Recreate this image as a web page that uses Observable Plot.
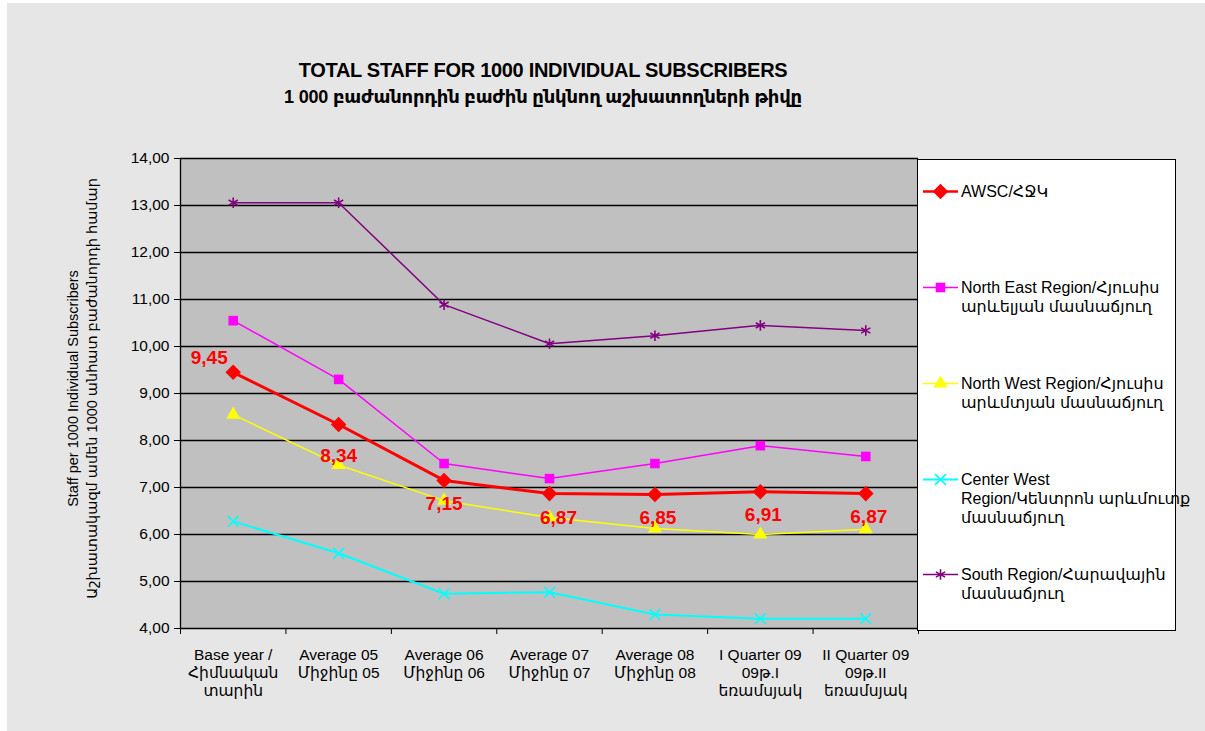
<!DOCTYPE html>
<html>
<head>
<meta charset="utf-8">
<script src="https://cdn.jsdelivr.net/npm/d3@7"></script>
<script src="https://cdn.jsdelivr.net/npm/@observablehq/plot@0.6"></script>
<style>
  html, body { margin: 0; padding: 0; background: #ffffff; }
  #wrap { position: relative; width: 1205px; height: 731px; overflow: hidden;
          font-family: "Liberation Sans", Arial, "DejaVu Sans", sans-serif; }
  #bg { position: absolute; left: 7px; top: 3px; width: 1198px; height: 728px; background: #e6e6e6; }
  #title { position: absolute; left: 193px; width: 700px; top: 57px; text-align: center;
           font-weight: bold; line-height: 27px; color: #000; }
  #title .l1 { font-size: 20px; letter-spacing: -0.3px; }
  #title .l2 { font-size: 18px; letter-spacing: -0.2px; }
  #chart { position: absolute; left: 0; top: 0; }
  #legend { position: absolute; left: 917px; top: 159px; width: 257px; height: 470px;
            background: #fff; border: 1px solid #000; }
  .item { position: absolute; left: 5px; display: flex; align-items: flex-start; }
  .item svg { flex: none; }
  .item .lab { margin-left: 3px; font-size: 16px; line-height: 19px; color: #000; white-space: nowrap; }
</style>
</head>
<body>
<div id="wrap">
  <div id="bg"></div>
  <div id="chart"></div>
  <div id="title"></div>
  <div id="legend"></div>
</div>
<script>
// ---- data ----
const titleLines = ["TOTAL STAFF FOR 1000 INDIVIDUAL SUBSCRIBERS", "1 000 բաժանորդին բաժին ընկնող աշխատողների թիվը"];
const yAxisTitle = "Staff per 1000 Individual Subscribers\nԱշխատակազմ ամեն 1000 անհատ բաժանորդի համար";
const categories = [
  "Base year /\nՀիմնական\nտարին",
  "Average 05\nՄիջինը 05",
  "Average 06\nՄիջինը 06",
  "Average 07\nՄիջինը 07",
  "Average 08\nՄիջինը 08",
  "I Quarter 09\n09թ.I\nեռամսյակ",
  "II Quarter 09\n09թ.II\nեռամսյակ"
];
const yTicks = [4, 5, 6, 7, 8, 9, 10, 11, 12, 13, 14];
const seriesNames = [
  "AWSC/ՀՋԿ",
  "North East Region/Հյուսիս\nարևելյան մասնաճյուղ",
  "North West Region/Հյուսիս\nարևմտյան մասնաճյուղ",
  "Center West\nRegion/Կենտրոն  արևմուտք\nմասնաճյուղ",
  "South Region/Հարավային\nմասնաճյուղ"
];
const awsc      = [9.45, 8.34, 7.15, 6.87, 6.85, 6.91, 6.87];
const northEast = [10.55, 9.30, 7.51, 7.19, 7.51, 7.89, 7.66];
const northWest = [8.55, 7.48, 6.72, 6.36, 6.13, 6.00, 6.11];
const centerWest= [6.28, 5.60, 4.74, 4.77, 4.30, 4.21, 4.21];
const south     = [13.06, 13.06, 10.89, 10.06, 10.23, 10.45, 10.34];

// ---- styles per series ----
const styles = [
  {color: "#ff0000", width: 3,   symbol: "square",   r: 6.2, rotate: 45, fill: true},
  {color: "#ff00ff", width: 1.5, symbol: "square",   r: 5.4, rotate: 0,  fill: true},
  {color: "#ffff00", width: 1.5, symbol: "triangle", r: 5.2, rotate: 0,  fill: true},
  {color: "#00ffff", width: 2,   symbol: "times",    r: 5.0, rotate: 0,  fill: false},
  {color: "#800080", width: 1.5, symbol: "asterisk", r: 5.0, rotate: 0,  fill: false}
];
const allSeries = [awsc, northEast, northWest, centerWest, south];

const rows = s => allSeries[s].map((v, i) => ({x: i + 0.5, y: v, i}));
const fmt = v => v.toFixed(2).replace(".", ",");

document.getElementById("title").innerHTML =
  `<div class="l1">${titleLines[0]}</div><div class="l2">${titleLines[1]}</div>`;

const marks = [
  Plot.frame({fill: "#c0c0c0", stroke: null}),
  Plot.ruleY(yTicks, {stroke: "#000", strokeWidth: 1.3}),
  Plot.ruleX([0], {stroke: "#000", strokeWidth: 1.3}),
  Plot.axisY({ticks: yTicks, tickFormat: fmt, tickSize: 6, fontSize: 15.5, label: null, tickPadding: 5, color: "#000"}),
  Plot.axisX({ticks: d3.range(0, 8), tickFormat: () => "", tickSize: 6, label: null}),
  Plot.text(categories, {x: (d, i) => i + 0.5, y: 4, text: d => d, lineAnchor: "top", dy: 19,
    fontSize: 15.5, lineHeight: 1.16, fill: "#000"}),
  Plot.text([yAxisTitle], {frameAnchor: "left", text: d => d, rotate: -90, textAnchor: "middle",
    dx: -99, dy: -5, fontSize: 14.5, lineHeight: 1.33, fill: "#000"})
];
// draw series back to front
[4, 3, 2, 1, 0].forEach(s => {
  const st = styles[s];
  marks.push(Plot.line(rows(s), {x: "x", y: "y", stroke: st.color, strokeWidth: st.width}));
  marks.push(Plot.dot(rows(s), {x: "x", y: "y", symbol: st.symbol, r: st.r, rotate: st.rotate,
    fill: st.fill ? st.color : "none", stroke: st.fill ? "none" : st.color, strokeWidth: st.fill ? 0 : 1.6}));
});
const lab = {fill: "#ff0000", fontWeight: "bold", fontSize: 19, stroke: null};
marks.push(Plot.text(rows(0).filter(d => d.i === 0), {x: "x", y: "y", text: d => fmt(d.y), dx: -24, dy: -14, ...lab}));
marks.push(Plot.text(rows(0).filter(d => d.i === 1), {x: "x", y: "y", text: d => fmt(d.y), dy: 31, ...lab}));
marks.push(Plot.text(rows(0).filter(d => d.i === 2), {x: "x", y: "y", text: d => fmt(d.y), dy: 23, ...lab}));
marks.push(Plot.text(rows(0).filter(d => d.i === 3), {x: "x", y: "y", text: d => fmt(d.y), dx: 9, dy: 24, ...lab}));
marks.push(Plot.text(rows(0).filter(d => d.i > 3), {x: "x", y: "y", text: d => fmt(d.y), dx: 3, dy: 23, ...lab}));

const chart = Plot.plot({
  width: 1205, height: 731,
  marginTop: 158, marginBottom: 103, marginLeft: 180, marginRight: 287,
  style: {background: "transparent", fontFamily: "'Liberation Sans', Arial, 'DejaVu Sans', sans-serif", color: "#000"},
  x: {type: "linear", domain: [0, 7]},
  y: {type: "linear", domain: [4, 14]},
  marks
});
document.getElementById("chart").appendChild(chart);

// ---- legend ----
const legendTops = [22, 118, 214, 310, 405];
const legend = document.getElementById("legend");
seriesNames.forEach((name, s) => {
  const st = styles[s];
  const item = document.createElement("div");
  item.className = "item";
  item.style.top = legendTops[s] + "px";
  const sym = d3.symbol().type({square: d3.symbolSquare, triangle: d3.symbolTriangle, times: d3.symbolTimes, asterisk: d3.symbolAsterisk}[st.symbol]).size(Math.PI * st.r * st.r)();
  item.innerHTML = `<svg width="35" height="19"><line x1="0" x2="35" y1="9.5" y2="9.5" stroke="${st.color}" stroke-width="${Math.min(st.width, 2.5)}"/>` +
    `<path d="${sym}" transform="translate(17.5,9.5) rotate(${st.rotate})" fill="${st.fill ? st.color : "none"}" stroke="${st.fill ? "none" : st.color}" stroke-width="1.6"/></svg>` +
    `<div class="lab">${name.replace(/\n/g, "<br>")}</div>`;
  legend.appendChild(item);
});
</script>
</body>
</html>
